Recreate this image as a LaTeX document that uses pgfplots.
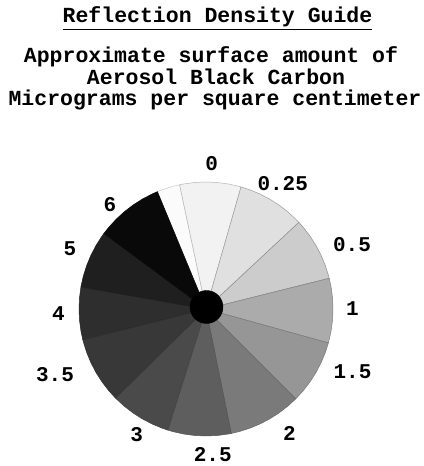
\documentclass[border=0pt]{standalone}
\usepackage{fontspec}
\setmonofont{Liberation Mono}
\usepackage{pgfplots}
\pgfplotsset{compat=1.18}
\definecolor{cgap}{gray}{0.985}
\definecolor{c0}{gray}{0.95}
\definecolor{c025}{gray}{0.88}
\definecolor{c05}{gray}{0.80}
\definecolor{c1}{gray}{0.67}
\definecolor{c15}{gray}{0.59}
\definecolor{c2}{gray}{0.48}
\definecolor{c25}{gray}{0.37}
\definecolor{c3}{gray}{0.29}
\definecolor{c35}{gray}{0.22}
\definecolor{c4}{gray}{0.18}
\definecolor{c5}{gray}{0.12}
\definecolor{c6}{gray}{0.035}
\begin{document}
\begin{tikzpicture}
\begin{axis}[x=1bp,y=1bp,xmin=-206,xmax=217,ymin=-157,ymax=309,hide axis,clip=false,
  sector/.style={data cs=polar,line width=0.5bp,line join=round}]
% gap
\addplot[sector,fill=cgap,draw=cgap!80!black] coordinates {(0,0) (102,127) (105,127) (110,127) (112.5,127)} --cycle;
% 0
\addplot[sector,fill=c0,draw=c0!75!black] coordinates {(0,0) (74,127) (75,127) (80,127) (85,127) (90,127) (95,127) (100,127) (102,127)} --cycle;
% 0.25
\addplot[sector,fill=c025,draw=c025!70!black] coordinates {(0,0) (43,127) (45,127) (50,127) (55,127) (60,127) (65,127) (70,127) (74,127)} --cycle;
% 0.5
\addplot[sector,fill=c05,draw=c05!70!black] coordinates {(0,0) (14,127) (15,127) (20,127) (25,127) (30,127) (35,127) (40,127) (43,127)} --cycle;
% 1
\addplot[sector,fill=c1,draw=c1!75!black] coordinates {(0,0) (-15.5,127) (-15,127) (-10,127) (-5,127) (0,127) (5,127) (10,127) (14,127)} --cycle;
% 1.5
\addplot[sector,fill=c15,draw=c15!80!black] coordinates {(0,0) (-45,127) (-40,127) (-35,127) (-30,127) (-25,127) (-20,127) (-15.5,127)} --cycle;
% 2
\addplot[sector,fill=c2,draw=c2!85!black] coordinates {(0,0) (-78.5,127) (-75,127) (-70,127) (-65,127) (-60,127) (-55,127) (-50,127) (-45,127)} --cycle;
% 2.5
\addplot[sector,fill=c25,draw=c25!90!black] coordinates {(0,0) (-107.5,127) (-105,127) (-100,127) (-95,127) (-90,127) (-85,127) (-80,127) (-78.5,127)} --cycle;
% 3
\addplot[sector,fill=c3,draw=c3!90!black] coordinates {(0,0) (-135.5,127) (-135,127) (-130,127) (-125,127) (-120,127) (-115,127) (-110,127) (-107.5,127)} --cycle;
% 3.5
\addplot[sector,fill=c35,draw=c35!90!black] coordinates {(0,0) (-166,127) (-165,127) (-160,127) (-155,127) (-150,127) (-145,127) (-140,127) (-135.5,127)} --cycle;
% 4
\addplot[sector,fill=c4,draw=c4!90!black] coordinates {(0,0) (170,127) (175,127) (180,127) (185,127) (190,127) (194,127)} --cycle;
% 5
\addplot[sector,fill=c5,draw=c5!90!black] coordinates {(0,0) (143.5,127) (145,127) (150,127) (155,127) (160,127) (165,127) (170,127)} --cycle;
% 6
\addplot[sector,fill=c6,draw=c6] coordinates {(0,0) (112.5,127) (115,127) (120,127) (125,127) (130,127) (135,127) (140,127) (143.5,127)} --cycle;
% centre dot
\addplot[only marks,mark=*,mark size=16.5bp,black] coordinates {(0.5,2)};
% labels
\begin{scope}[every node/.style={font=\ttfamily\bfseries\fontsize{21bp}{21bp}\selectfont,inner sep=0pt}]
\node at (axis cs:5.7,145.7) {0};
\node at (axis cs:76.7,125.7) {0.25};
\node at (axis cs:146,64) {0.5};
\node at (axis cs:146.5,0.7) {1};
\node at (axis cs:146.5,-62.7) {1.5};
\node at (axis cs:83.3,-124.3) {2};
\node at (axis cs:6.7,-146) {2.5};
\node at (axis cs:-69.3,-126) {3};
\node at (axis cs:-151,-66) {3.5};
\node at (axis cs:-147.7,-4.3) {4};
\node at (axis cs:-136,60.7) {5};
\node at (axis cs:-96,104) {6};
\end{scope}
\begin{scope}[every node/.style={anchor=base,inner sep=0pt,font=\ttfamily\bfseries\fontsize{21.5bp}{21.75bp}\selectfont}]
\node at (axis cs:11.5,286) {\underline{Reflection Density Guide}};
\node at (axis cs:5,246.5) {Approximate surface amount of};
\node at (axis cs:10,224.5) {Aerosol Black Carbon};
\node at (axis cs:9,203) {Micrograms per square centimeter};
\end{scope}
\end{axis}
\pgfresetboundingbox
\useasboundingbox (current axis.south west) rectangle (current axis.north east);
\end{tikzpicture}
\end{document}
